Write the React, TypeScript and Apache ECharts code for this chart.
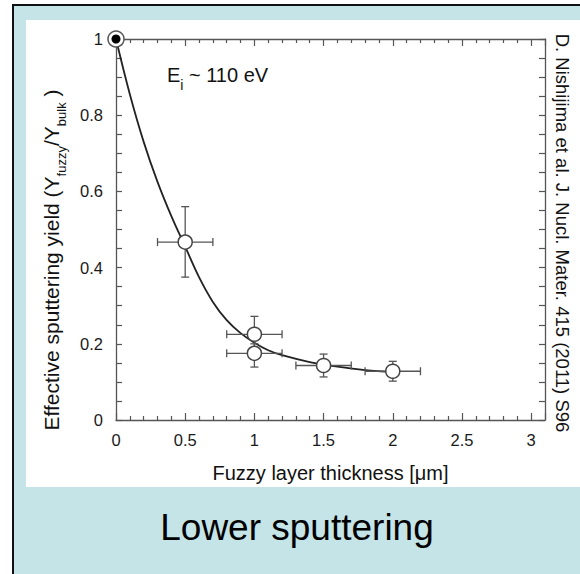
import React, { useEffect, useRef } from "react";
import * as echarts from "echarts";

// Measured points (fuzzy layer thickness [µm], effective sputtering yield)
const pointX = [0.5, 1, 1, 1.5, 2];
const pointY = [0.467, 0.225, 0.175, 0.143, 0.128];
const xErrLow = [0.3, 0.8, 0.8, 1.3, 1.8];
const xErrHigh = [0.7, 1.2, 1.2, 1.7, 2.2];
const yErrLow = [0.375, 0.185, 0.139, 0.113, 0.102];
const yErrHigh = [0.56, 0.272, 0.2, 0.173, 0.154];

// Reference (bulk) point
const refX = [0];
const refY = [1];

// Fitted curve
const curveX = [0, 0.1, 0.2, 0.3, 0.4, 0.5, 0.6, 0.7, 0.8, 0.9, 1.0, 1.1, 1.2, 1.4, 1.6, 1.8, 2.0];
const curveY = [1.0, 0.855, 0.73, 0.625, 0.535, 0.455, 0.375, 0.31, 0.262, 0.228, 0.203, 0.183, 0.17, 0.152, 0.14, 0.131, 0.126];

const FONT = "'Liberation Sans', Arial, sans-serif";
const AXIS_COLOR = "#555";

export default function App() {
  const ref = useRef<HTMLDivElement>(null);

  useEffect(() => {
    if (!ref.current) return;
    const chart = echarts.init(ref.current, undefined, { renderer: "svg" });

    const errData = pointX.map((x, i) => [x, pointY[i], xErrLow[i], xErrHigh[i], yErrLow[i], yErrHigh[i]]);
    const curveData = curveX.map((x, i) => [x, curveY[i]]);
    const pointData = pointX.map((x, i) => [x, pointY[i]]);
    const refData = refX.map((x, i) => [x, refY[i]]);

    const baseX = {
      type: "value" as const,
      min: 0,
      max: 3.1,
      interval: 0.5,
      splitLine: { show: false },
      axisLine: { show: true, onZero: false, lineStyle: { color: AXIS_COLOR, width: 1.3 } },
      axisTick: { show: true, inside: true, length: 7, lineStyle: { color: AXIS_COLOR, width: 1.2 } },
      minorTick: { show: true, splitNumber: 5, length: 4, lineStyle: { color: AXIS_COLOR, width: 1.2 } },
    };
    const baseY = {
      type: "value" as const,
      min: 0,
      max: 1,
      interval: 0.2,
      splitLine: { show: false },
      axisLine: { show: true, onZero: false, lineStyle: { color: AXIS_COLOR, width: 1.3 } },
      axisTick: { show: true, inside: true, length: 6, lineStyle: { color: AXIS_COLOR, width: 1.2 } },
      minorTick: { show: true, splitNumber: 4, length: 6, lineStyle: { color: AXIS_COLOR, width: 1.2 } },
    };

    chart.setOption({
      animation: false,
      backgroundColor: "#ffffff",
      graphic: [
        {
          type: "rect",
          z: -10,
          silent: true,
          shape: { x: 13, y: 5, width: 580, height: 580 },
          style: { fill: "#c4e4e7", stroke: "#111", lineWidth: 2 },
        },
        {
          type: "rect",
          z: -9,
          silent: true,
          shape: { x: 26, y: 20, width: 560, height: 467 },
          style: { fill: "#ffffff" },
        },
        {
          type: "text",
          x: 167,
          y: 75,
          style: {
            text: "E{sub|i} ~ 110 eV",
            fontFamily: FONT,
            fontSize: 20,
            fill: "#111",
            verticalAlign: "middle",
            rich: {
              sub: { fontSize: 14, fontFamily: FONT, fill: "#111", verticalAlign: "bottom", lineHeight: 34 },
            },
          },
        },
        {
          type: "text",
          x: 51,
          y: 260,
          rotation: Math.PI / 2,
          style: {
            text: "Effective sputtering yield (Y{sub|fuzzy}/Y{sub|bulk} )",
            fontFamily: FONT,
            fontSize: 21,
            fill: "#111",
            align: "center",
            verticalAlign: "middle",
            rich: {
              sub: { fontFamily: FONT, fontSize: 13, fill: "#111", verticalAlign: "bottom", lineHeight: 34 },
            },
          },
        },
        {
          type: "text",
          x: 562,
          y: 233,
          rotation: -Math.PI / 2,
          style: {
            text: "D. Nishijima et al. J. Nucl. Mater. 415 (2011) S96",
            fontFamily: FONT,
            fontSize: 18.5,
            fill: "#111",
            align: "center",
            verticalAlign: "middle",
          },
        },
        {
          type: "text",
          x: 297,
          y: 527,
          style: {
            text: "Lower sputtering",
            fontFamily: FONT,
            fontSize: 37,
            fill: "#000",
            align: "center",
            verticalAlign: "middle",
          },
        },
      ],
      grid: { left: 116, top: 39, width: 429, height: 381, containLabel: false },
      xAxis: [
        {
          ...baseX,
          position: "bottom",
          name: "Fuzzy layer thickness [\u03bcm]",
          nameLocation: "middle",
          nameGap: 43,
          nameTextStyle: { fontFamily: FONT, fontSize: 20, color: "#111" },
          axisLabel: {
            show: true,
            margin: 11,
            fontFamily: FONT,
            fontSize: 16.5,
            color: "#1a1a1a",
            formatter: (v: number) => String(v),
          },
        },
        {
          ...baseX,
          position: "top",
          axisLabel: { show: false },
        },
      ],
      yAxis: [
        {
          ...baseY,
          position: "left",
          axisLabel: {
            show: true,
            margin: 13,
            fontFamily: FONT,
            fontSize: 16.5,
            color: "#1a1a1a",
            formatter: (v: number) => String(v),
          },
        },
        {
          ...baseY,
          position: "right",
          axisLabel: { show: false },
        },
      ],
      series: [
        {
          type: "line",
          data: curveData,
          smooth: 0.4,
          showSymbol: false,
          symbol: "none",
          lineStyle: { color: "#222", width: 1.8 },
          z: 2,
          silent: true,
        },
        {
          type: "custom",
          data: errData,
          z: 3,
          silent: true,
          renderItem: (params: any, api: any) => {
            const x = api.value(0);
            const y = api.value(1);
            const l = api.coord([api.value(2), y]);
            const r = api.coord([api.value(3), y]);
            const b = api.coord([x, api.value(4)]);
            const t = api.coord([x, api.value(5)]);
            const cap = 4;
            const st = { stroke: "#555", lineWidth: 1.3 };
            return {
              type: "group",
              children: [
                { type: "line", shape: { x1: l[0], y1: l[1], x2: r[0], y2: r[1] }, style: st },
                { type: "line", shape: { x1: l[0], y1: l[1] - cap, x2: l[0], y2: l[1] + cap }, style: st },
                { type: "line", shape: { x1: r[0], y1: r[1] - cap, x2: r[0], y2: r[1] + cap }, style: st },
                { type: "line", shape: { x1: b[0], y1: b[1], x2: t[0], y2: t[1] }, style: st },
                { type: "line", shape: { x1: b[0] - cap, y1: b[1], x2: b[0] + cap, y2: b[1] }, style: st },
                { type: "line", shape: { x1: t[0] - cap, y1: t[1], x2: t[0] + cap, y2: t[1] }, style: st },
              ],
            };
          },
        },
        {
          type: "scatter",
          data: pointData,
          symbol: "circle",
          symbolSize: 14,
          itemStyle: { color: "#fff", borderColor: "#444", borderWidth: 1.5, opacity: 1 },
          z: 4,
          silent: true,
        },
        {
          type: "scatter",
          data: refData,
          symbol: "circle",
          symbolSize: 16,
          itemStyle: { color: "#fff", borderColor: "#555", borderWidth: 1.5, opacity: 1 },
          z: 5,
          silent: true,
        },
        {
          type: "scatter",
          data: refData,
          symbol: "circle",
          symbolSize: 9,
          itemStyle: { color: "#000", opacity: 1 },
          z: 6,
          silent: true,
        },
      ],
    });

    return () => chart.dispose();
  }, []);

  return (
    <div
      ref={ref}
      style={{ position: "fixed", left: 0, top: 0, width: 580, height: 574 }}
    />
  );
}
